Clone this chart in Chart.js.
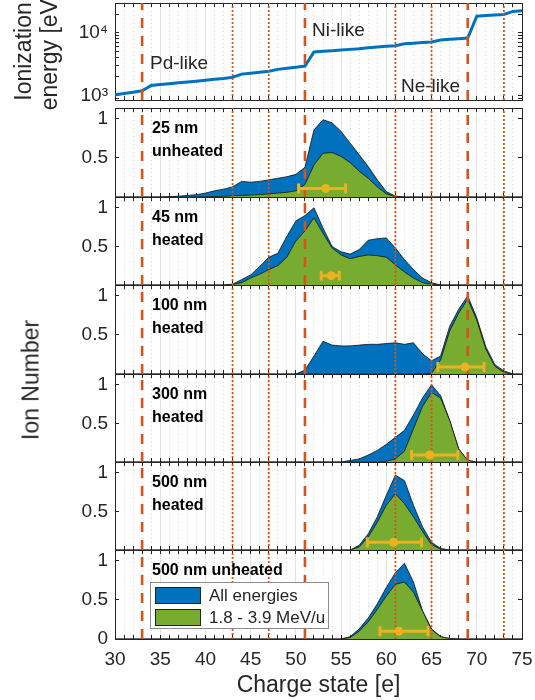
<!DOCTYPE html>
<html>
<head>
<meta charset="utf-8">
<script src="https://cdn.jsdelivr.net/npm/chart.js@4.4.1/dist/chart.umd.min.js"></script>
<style>
  html, body { margin: 0; padding: 0; background: #fff; }
  body { width: 535px; height: 700px; position: relative; overflow: hidden;
         font-family: "Liberation Sans", Arial, sans-serif; color: #262626; }
  canvas { position: absolute; left: 0; }
  .tag { position: absolute; left: 152px; font-size: 16px; font-weight: bold; line-height: 23px; color: #000; white-space: nowrap; }
  .shell { position: absolute; font-size: 19px; line-height: 19px; white-space: nowrap; }
  #ylab { position: absolute; left: 31px; top: 380px; font-size: 23px; white-space: nowrap;
          transform: translate(-50%, -50%) rotate(-90deg); }
  #legend { position: absolute; left: 150px; top: 582px; width: 179px; height: 47px;
            background: #fff; border: 1px solid #8c8c8c; box-sizing: border-box; font-size: 17px; }
  #legend .row { position: absolute; left: 4px; height: 17px; }
  #legend .sw { position: absolute; left: 0; top: 0; width: 46px; height: 17px; box-sizing: border-box; border: 1px solid #222; }
  #legend .lt { position: absolute; left: 54px; top: -1px; line-height: 19px; white-space: nowrap; }
</style>
</head>
<body>
<script>
// charge states on the x axis
const charge = [30, 31, 32, 33, 34, 35, 36, 37, 38, 39, 40, 41, 42, 43, 44, 45, 46, 47, 48, 49,
  50, 51, 52, 53, 54, 55, 56, 57, 58, 59, 60, 61, 62, 63, 64, 65, 66, 67, 68, 69,
  70, 71, 72, 73, 74, 75];

// ionization energy [eV] per charge state
const ionEnergy = [1030, 1080, 1130, 1190, 1450, 1500, 1550, 1600, 1650, 1700,
  1760, 1820, 1880, 1960, 2200, 2280, 2360, 2440, 2620, 2720,
  2830, 2960, 4950, 5080, 5200, 5330, 5460, 5600, 5800, 5950,
  6100, 6250, 6700, 6850, 7000, 7150, 7700, 7900, 8100, 8300,
  18500, 18900, 19300, 19700, 22000, 22500];

const shellEdges = [33, 51, 69];
const subshellEdges = [43, 47, 61, 65, 73];
const energyTicks = [900, 1000, 2000, 3000, 4000, 5000, 6000, 7000, 8000, 9000, 10000, 20000];
const ionTicks = [0, 0.1, 0.2, 0.3, 0.4, 0.5, 0.6, 0.7, 0.8, 0.9, 1, 1.1];

// ion number, all energies / 1.8-3.9 MeV/u (charge 30..75)
const all25 = [0, 0, 0, 0, 0, 0, 0.005, 0.01, 0.02, 0.03, 0.05, 0.08, 0.1, 0.13, 0.2, 0.19,
  0.2, 0.22, 0.24, 0.26, 0.29, 0.38, 0.86, 0.99, 0.95, 0.84, 0.69, 0.54, 0.39, 0.22,
  0.07, 0.01, 0, 0, 0, 0, 0, 0, 0, 0, 0, 0, 0, 0, 0, 0];
const mid25 = [0, 0, 0, 0, 0, 0, 0, 0, 0, 0, 0.003, 0.005, 0.01, 0.015, 0.02, 0.025,
  0.03, 0.04, 0.05, 0.06, 0.08, 0.16, 0.41, 0.56, 0.57, 0.52, 0.44, 0.33, 0.24, 0.13,
  0.04, 0.005, 0, 0, 0, 0, 0, 0, 0, 0, 0, 0, 0, 0, 0, 0];

const all45 = [0, 0, 0, 0, 0, 0, 0, 0, 0, 0, 0, 0, 0, 0.01, 0.07, 0.13,
  0.24, 0.36, 0.41, 0.63, 0.83, 0.9, 1.0, 0.74, 0.5, 0.43, 0.4, 0.46, 0.58, 0.6,
  0.61, 0.48, 0.33, 0.2, 0.09, 0.03, 0, 0, 0, 0, 0, 0, 0, 0, 0, 0];
const mid45 = [0, 0, 0, 0, 0, 0, 0, 0, 0, 0, 0, 0, 0, 0.005, 0.03, 0.09,
  0.14, 0.2, 0.25, 0.36, 0.57, 0.7, 0.87, 0.67, 0.48, 0.39, 0.34, 0.37, 0.39, 0.38,
  0.36, 0.26, 0.17, 0.09, 0.03, 0.01, 0, 0, 0, 0, 0, 0, 0, 0, 0, 0];

const all100 = [0, 0, 0, 0, 0, 0, 0, 0, 0, 0, 0, 0, 0, 0, 0, 0,
  0, 0, 0, 0, 0, 0.05, 0.23, 0.42, 0.37, 0.36, 0.36, 0.37, 0.38, 0.38,
  0.39, 0.4, 0.38, 0.4, 0.26, 0.17, 0.23, 0.61, 0.83, 1.0, 0.72, 0.35, 0.12, 0.04, 0, 0];
const mid100 = [0, 0, 0, 0, 0, 0, 0, 0, 0, 0, 0, 0, 0, 0, 0, 0,
  0, 0, 0, 0, 0, 0, 0, 0, 0, 0, 0, 0, 0, 0,
  0, 0, 0, 0, 0.003, 0.01, 0.18, 0.55, 0.78, 0.96, 0.69, 0.32, 0.1, 0.02, 0, 0];

const all300 = [0, 0, 0, 0, 0, 0, 0, 0, 0, 0, 0, 0, 0, 0, 0, 0,
  0, 0, 0, 0, 0, 0, 0, 0, 0, 0, 0.02, 0.04, 0.09, 0.15,
  0.23, 0.32, 0.41, 0.61, 0.83, 1.0, 0.86, 0.54, 0.17, 0.02, 0, 0, 0, 0, 0, 0];
const mid300 = [0, 0, 0, 0, 0, 0, 0, 0, 0, 0, 0, 0, 0, 0, 0, 0,
  0, 0, 0, 0, 0, 0, 0, 0, 0, 0, 0, 0, 0, 0,
  0.01, 0.04, 0.14, 0.43, 0.72, 0.9, 0.83, 0.54, 0.17, 0.02, 0, 0, 0, 0, 0, 0];

const all500h = [0, 0, 0, 0, 0, 0, 0, 0, 0, 0, 0, 0, 0, 0, 0, 0,
  0, 0, 0, 0, 0, 0, 0, 0, 0, 0, 0, 0.06, 0.21, 0.43,
  0.71, 0.97, 0.9, 0.58, 0.3, 0.1, 0.02, 0, 0, 0, 0, 0, 0, 0, 0, 0];
const mid500h = [0, 0, 0, 0, 0, 0, 0, 0, 0, 0, 0, 0, 0, 0, 0, 0,
  0, 0, 0, 0, 0, 0, 0, 0, 0, 0, 0, 0.04, 0.17, 0.36,
  0.58, 0.73, 0.6, 0.43, 0.24, 0.07, 0.01, 0, 0, 0, 0, 0, 0, 0, 0, 0];

const all500u = [0, 0, 0, 0, 0, 0, 0, 0, 0, 0, 0, 0, 0, 0, 0, 0,
  0, 0, 0, 0, 0, 0, 0, 0, 0, 0, 0.03, 0.13, 0.27, 0.45,
  0.66, 0.85, 0.97, 0.73, 0.36, 0.13, 0.03, 0.005, 0, 0, 0, 0, 0, 0, 0, 0];
const mid500u = [0, 0, 0, 0, 0, 0, 0, 0, 0, 0, 0, 0, 0, 0, 0, 0,
  0, 0, 0, 0, 0, 0, 0, 0, 0, 0, 0.02, 0.1, 0.22, 0.38,
  0.55, 0.7, 0.73, 0.6, 0.36, 0.12, 0.03, 0.005, 0, 0, 0, 0, 0, 0, 0, 0];

// mean charge state with spread, per panel
const meanCharge = [53.3, 53.9, 68.7, 64.8, 60.8, 61.4];
const lowCharge = [50.3, 52.8, 65.7, 62.8, 57.9, 59.3];
const highCharge = [55.5, 54.8, 70.8, 67.9, 63.9, 64.6];
const meanLevel = [0.11, 0.12, 0.09, 0.09, 0.1, 0.1];

const panelTags = [["25 nm", "unheated"], ["45 nm", "heated"], ["100 nm", "heated"],
  ["300 nm", "heated"], ["500 nm", "heated"], ["500 nm unheated"]];

// layout
const pageW = 535, plotLeft = 115, plotRight = 522, pad = 26;
const panelTop = [108, 197, 285, 374, 462, 550];
const panelBottom = [197, 285, 374, 462, 550, 639];
const ionMax = 1.14;

const orange = "#D95319", blue = "#0072BD", green = "#77AC30", gold = "#EDB120", ink = "#262626";
const family = '"Liberation Sans", Arial, sans-serif';
const clear = "rgba(0,0,0,0)";

function xAxis(h, labels) {
  return {
    type: "linear", position: "bottom", min: 30, max: 75,
    afterBuildTicks: s => { s.ticks = charge.map(v => ({ value: v })); },
    afterFit: s => { s.height = h; },
    grid: {
      color: ctx => {
        if (!ctx.tick || ctx.tick.value === 30 || ctx.tick.value === 75) return clear;
        return ctx.tick.value % 5 === 0 ? "#e3e3e3" : "#d2d2d2";
      },
      tickLength: -4, tickColor: ink
    },
    border: { color: ink, width: 1, dash: ctx => (ctx.tick && ctx.tick.value % 5 !== 0) ? [1, 3] : [] },
    ticks: {
      // small padding keeps the end label from narrowing the plot; the tall line box moves it down
      display: labels, autoSkip: false, maxRotation: 0, padding: 0, color: ink,
      font: { family, size: 19, lineHeight: 2.63 }, callback: v => v % 5 === 0 ? String(v) : ""
    },
    title: { display: labels, text: "Charge state [e]", color: ink, font: { family, size: 23 }, padding: { top: 0, bottom: 1 } }
  };
}

function xTop() {
  return {
    type: "linear", axis: "x", position: "top", min: 30, max: 75,
    afterBuildTicks: s => { s.ticks = charge.map(v => ({ value: v })); },
    afterFit: s => { s.height = 0; },
    grid: { drawOnChartArea: false, tickLength: -4, tickColor: ink },
    border: { color: ink, width: 1 },
    ticks: { display: false, autoSkip: false }
  };
}

function isHalf(v) { return Math.abs(v - 0.5) < 1e-6 || Math.abs(v - 1) < 1e-6; }

function ionAxis(showZero) {
  return {
    type: "linear", position: "left", min: 0, max: ionMax,
    afterBuildTicks: s => { s.ticks = ionTicks.map(v => ({ value: v })); },
    afterFit: s => { s.width = plotLeft; },
    grid: {
      color: clear,
      tickLength: -4, tickColor: ctx => ctx.tick && isHalf(ctx.tick.value) ? ink : clear
    },
    border: { color: ink, width: 1 },
    ticks: {
      autoSkip: false, padding: 11, color: ink, font: { family, size: 19 },
      callback: v => isHalf(v) ? String(v) : (showZero && v === 0 ? "0" : "")
    }
  };
}

function ionRight() {
  return {
    type: "linear", axis: "y", position: "right", min: 0, max: ionMax,
    afterBuildTicks: s => { s.ticks = ionTicks.map(v => ({ value: v })); },
    afterFit: s => { s.width = pageW - plotRight; },
    grid: { drawOnChartArea: false, tickLength: -4, tickColor: ctx => ctx.tick && isHalf(ctx.tick.value) ? ink : clear },
    border: { color: ink, width: 1 },
    ticks: { display: false, autoSkip: false }
  };
}

function guides(ymin, ymax) {
  const dashed = shellEdges.map(c => ({
    data: [{ x: c, y: ymin }, { x: c, y: ymax }], borderColor: orange, borderWidth: 2.6,
    borderDash: [10, 8], pointRadius: 0, order: 1
  }));
  const dotted = subshellEdges.map(c => ({
    data: [{ x: c, y: ymin }, { x: c, y: ymax }], borderColor: orange, borderWidth: 1.8,
    borderDash: [2, 2], pointRadius: 0, order: 1
  }));
  return dashed.concat(dotted);
}

function area(values, color, order) {
  return {
    data: charge.map((c, i) => ({ x: c, y: values[i] })), fill: "origin",
    backgroundColor: color, borderColor: "#111", borderWidth: 0.8, pointRadius: 0, order
  };
}

function spread(i) {
  return [{
    data: [{ x: lowCharge[i], y: meanLevel[i] }, { x: highCharge[i], y: meanLevel[i] }],
    borderColor: gold, borderWidth: 3, pointStyle: "line", rotation: 90, pointRadius: 5,
    pointBorderWidth: 3, pointBorderColor: gold, order: 0
  }, {
    data: [{ x: meanCharge[i], y: meanLevel[i] }], showLine: false, pointStyle: "circle",
    pointRadius: 4.5, pointBackgroundColor: gold, pointBorderColor: gold, pointBorderWidth: 0, order: 0
  }];
}

function makeChart(top, bottom, below, datasets, scales) {
  const cv = document.createElement("canvas");
  cv.width = pageW;
  cv.height = bottom - top + pad + below;
  cv.style.top = (top - pad) + "px";
  document.body.appendChild(cv);
  return new Chart(cv, {
    type: "line",
    data: { datasets },
    options: {
      responsive: false, animation: false, events: [],
      layout: { padding: { top: pad, left: 0, right: 0, bottom: 0 } },
      plugins: { legend: { display: false }, tooltip: { enabled: false } },
      scales
    }
  });
}

// top panel: ionization energy
const eMin = 850, eMax = 30000;
makeChart(3, 100, pad, [
  ...guides(eMin, eMax),
  { data: charge.map((c, i) => ({ x: c, y: ionEnergy[i] })), borderColor: blue, borderWidth: 3, pointRadius: 0, order: 2 }
], {
  x: xAxis(pad, false),
  xt: xTop(),
  y: {
    type: "logarithmic", position: "left", min: eMin, max: eMax,
    afterBuildTicks: s => { s.ticks = energyTicks.map(v => ({ value: v })); },
    afterFit: s => { s.width = plotLeft; },
    grid: { color: clear, tickLength: -4, tickColor: ink },
    border: { color: ink, width: 1 },
    ticks: {
      autoSkip: false, padding: 11, color: ink, font: { family, size: 19 },
      callback: v => v === 1000 ? "10\u00B3" : (v === 10000 ? "10\u2074" : "")
    },
    title: { display: true, text: ["Ionization", "energy [eV]"], color: ink, font: { family, size: 23, lineHeight: 1.15 }, padding: { top: 11, bottom: 0 } }
  },
  yr: {
    type: "logarithmic", axis: "y", position: "right", min: eMin, max: eMax,
    afterBuildTicks: s => { s.ticks = energyTicks.map(v => ({ value: v })); },
    afterFit: s => { s.width = pageW - plotRight; },
    grid: { drawOnChartArea: false, tickLength: -4, tickColor: ink },
    border: { color: ink, width: 1 },
    ticks: { display: false, autoSkip: false }
  }
});

// ion number panels
const allSets = [all25, all45, all100, all300, all500h, all500u];
const midSets = [mid25, mid45, mid100, mid300, mid500h, mid500u];
for (let i = 0; i < 6; i++) {
  const last = i === 5;
  const below = last ? 700 - panelBottom[i] : pad;
  makeChart(panelTop[i], panelBottom[i], below, [
    ...spread(i),
    ...guides(0, ionMax),
    area(midSets[i], green, 2),
    area(allSets[i], blue, 3)
  ], {
    x: xAxis(below, last),
    xt: xTop(),
    y: ionAxis(last),
    yr: ionRight()
  });
}

// text overlays
panelTags.forEach((t, i) => {
  const d = document.createElement("div");
  d.className = "tag";
  d.style.top = (panelTop[i] + 8) + "px";
  d.innerHTML = t.join("<br>");
  document.body.appendChild(d);
});

[["Pd-like", 150, 53], ["Ni-like", 312, 20], ["Ne-like", 401, 76]].forEach(s => {
  const d = document.createElement("div");
  d.className = "shell";
  d.textContent = s[0];
  d.style.left = s[1] + "px";
  d.style.top = s[2] + "px";
  document.body.appendChild(d);
});

const yl = document.createElement("div");
yl.id = "ylab";
yl.textContent = "Ion Number";
document.body.appendChild(yl);

const lg = document.createElement("div");
lg.id = "legend";
lg.innerHTML =
  '<div class="row" style="top:4px"><div class="sw" style="background:' + blue + '"></div><div class="lt">All energies</div></div>' +
  '<div class="row" style="top:26px"><div class="sw" style="background:' + green + '"></div><div class="lt">1.8 - 3.9 MeV/u</div></div>';
document.body.appendChild(lg);
</script>
</body>
</html>
